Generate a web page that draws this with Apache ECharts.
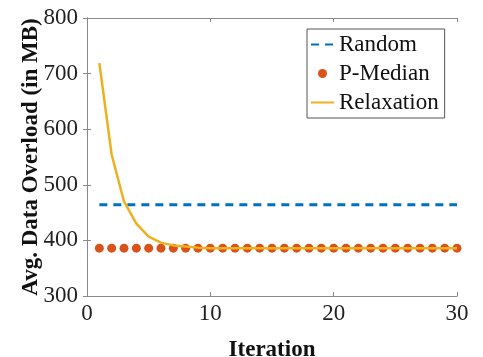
<!DOCTYPE html>
<html>
<head>
<meta charset="utf-8">
<script src="https://cdn.jsdelivr.net/npm/echarts@6/dist/echarts.min.js"></script>
<style>html,body{margin:0;padding:0;background:#fff;}#c{width:483px;height:357px;}</style>
</head>
<body>
<div id="c"></div>
<script>
var iterations = [1,2,3,4,5,6,7,8,9,10,11,12,13,14,15,16,17,18,19,20,21,22,23,24,25,26,27,28,29,30];
var randomValues = [464,464,464,464,464,464,464,464,464,464,464,464,464,464,464,464,464,464,464,464,464,464,464,464,464,464,464,464,464,464];
var pmedianValues = [386,386,386,386,386,386,386,386,386,386,386,386,386,386,386,386,386,386,386,386,386,386,386,386,386,386,386,386,386,386];
var relaxationValues = [719,554,470,430,407,396,391,389,387,386,386,386,386,386,386,386,386,386,386,386,386,386,386,386,386,386,386,386,386,386];
var seriesNames = ['Random','P-Median','Relaxation'];
var xTicks = {min:0, max:30, interval:10};
var yTicks = {min:300, max:800, interval:100};

function pairs(vals){ return iterations.map(function(x,i){ return [x, vals[i]]; }); }

var font = '"Liberation Serif", "Times New Roman", serif';
var axisColor = '#8a8a8a';
var chart = echarts.init(document.getElementById('c'), null, {renderer:'canvas'});
chart.setOption({
  animation:false,
  backgroundColor:'#fff',
  grid:{left:87, right:26, top:18, bottom:61, outerBoundsMode:'none', containLabel:false},
  legend:{
    orient:'vertical', left:307, top:29,
    data:[{name:seriesNames[0], itemStyle:{opacity:0}},{name:seriesNames[1], icon:'circle'},{name:seriesNames[2], itemStyle:{opacity:0}}],
    itemWidth:23, itemHeight:9, itemGap:6,
    padding:[4,6,4,3],
    borderColor:'#555', borderWidth:1, backgroundColor:'#fff',
    textStyle:{fontFamily:font, fontSize:23, color:'#111'}
  },
  xAxis:[{
    type:'value', min:xTicks.min, max:xTicks.max, interval:xTicks.interval,
    name:'Iteration', nameLocation:'middle', nameGap:43,
    nameTextStyle:{fontFamily:font, fontSize:23, fontWeight:'bold', color:'#111'},
    axisLine:{show:true, lineStyle:{color:axisColor, width:1}},
    axisTick:{show:true, inside:true, length:4, lineStyle:{color:axisColor}},
    axisLabel:{fontFamily:font, fontSize:23, color:'#222', margin:6},
    splitLine:{show:false}
  },{
    type:'value', position:'top', min:xTicks.min, max:xTicks.max, interval:xTicks.interval,
    axisLine:{show:true, lineStyle:{color:axisColor, width:1}},
    axisTick:{show:true, inside:true, length:4, lineStyle:{color:axisColor}},
    axisLabel:{show:false}, splitLine:{show:false}
  }],
  yAxis:[{
    type:'value', min:yTicks.min, max:yTicks.max, interval:yTicks.interval,
    name:'Avg. Data Overload (in MB)', nameLocation:'middle', nameGap:44, nameRotate:90,
    nameMoveOverlap:false,
    nameTextStyle:{fontFamily:font, fontSize:23, fontWeight:'bold', color:'#111'},
    axisLine:{show:true, lineStyle:{color:axisColor, width:1}},
    axisTick:{show:true, inside:true, length:4, lineStyle:{color:axisColor}},
    axisLabel:{fontFamily:font, fontSize:23, color:'#222', margin:9},
    splitLine:{show:false}
  },{
    type:'value', position:'right', min:yTicks.min, max:yTicks.max, interval:yTicks.interval,
    axisLine:{show:true, lineStyle:{color:axisColor, width:1}},
    axisTick:{show:true, inside:true, length:4, lineStyle:{color:axisColor}},
    axisLabel:{show:false}, splitLine:{show:false}
  }],
  series:[{
    name:seriesNames[0], type:'line', data:pairs(randomValues), symbol:'none',
    lineStyle:{color:'#0072BD', width:3, type:[8,6]}, itemStyle:{color:'#0072BD'}
  },{
    name:seriesNames[1], type:'scatter', data:pairs(pmedianValues), symbol:'circle', symbolSize:9,
    itemStyle:{color:'#D95319', opacity:1}
  },{
    name:seriesNames[2], type:'line', data:pairs(relaxationValues), symbol:'none',
    lineStyle:{color:'#EDB120', width:2.5}, itemStyle:{color:'#EDB120'}
  }]
});
</script>
</body>
</html>
